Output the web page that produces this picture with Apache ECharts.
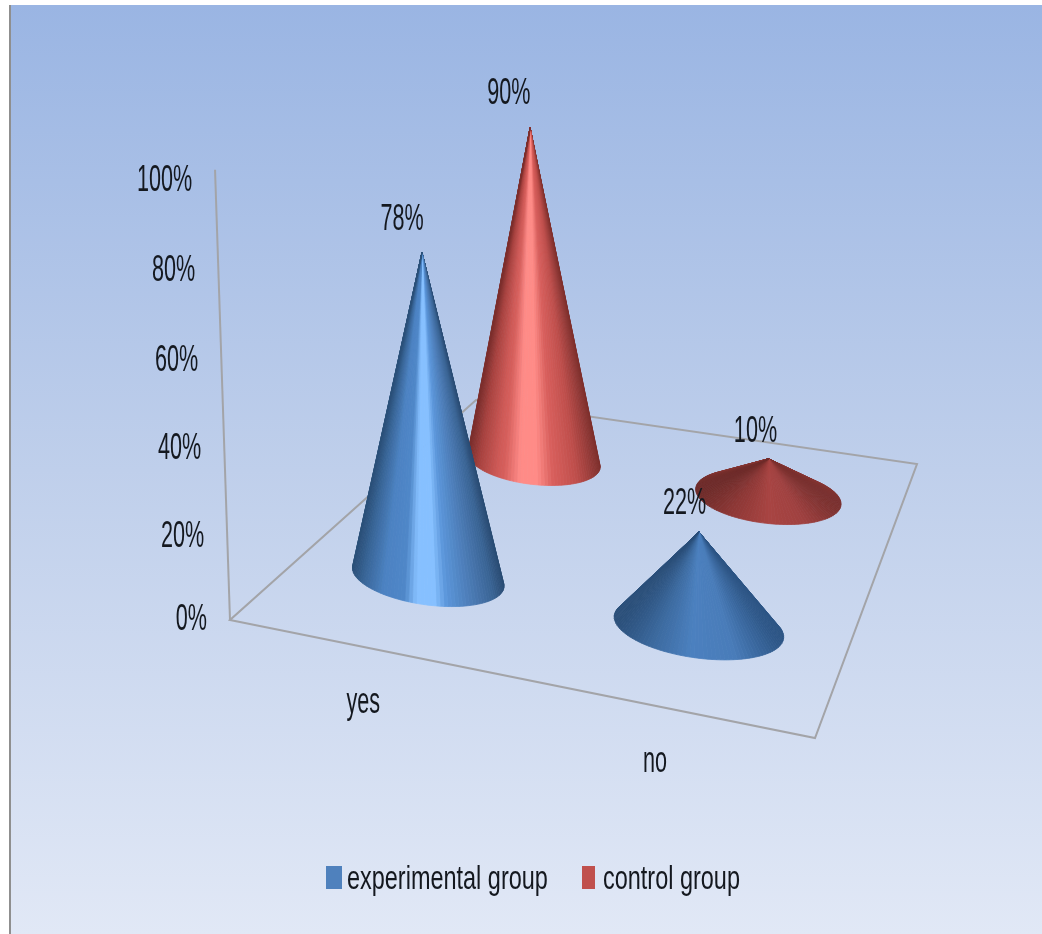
<!DOCTYPE html>
<html>
<head>
<meta charset="utf-8">
<title>Experimental and control group responses</title>
<style>html,body{margin:0;padding:0;background:#fff}#chart{width:1042px;height:934px}</style>
<script src="https://cdn.jsdelivr.net/npm/echarts@6/dist/echarts.min.js"></script>
</head>
<body>
<div id="chart"></div>
<script>
// Chart values
const categories = ['yes', 'no'];
const groupNames = ['experimental group', 'control group'];
const groupColors = ['#4f81bd', '#c0504d'];
const experimental = [78, 22];
const control = [90, 10];
const valueTicks = [0, 20, 40, 60, 80, 100];

const TEXT_COLOR = '#14181f';
const LABEL_FONT = '36px "Liberation Sans"';
const LABEL_SQUEEZE = 0.6;

// Perspective camera for the chart box: the floor's four corners on the page,
// and where the 100% level lands above the near-left corner.
const floorQuad = [[230, 620], [815, 738], [917, 464], [476, 400]];
const wallTop = [215.3, 178];
const wallW = 0.97;
// The drawn axis line runs slightly past the 100% level.
const wallOvershoot = 1.018;

function buildCamera() {
  const [p0, p1, p2, p3] = floorQuad;
  const dx1 = p1[0] - p2[0], dx2 = p3[0] - p2[0], sx = p0[0] - p1[0] + p2[0] - p3[0];
  const dy1 = p1[1] - p2[1], dy2 = p3[1] - p2[1], sy = p0[1] - p1[1] + p2[1] - p3[1];
  const det = dx1 * dy2 - dx2 * dy1;
  const g = (sx * dy2 - dx2 * sy) / det;
  const h = (dx1 * sy - sx * dy1) / det;
  const up = [wallTop[0] * wallW - p0[0], wallTop[1] * wallW - p0[1], wallW - 1];
  return {
    a: p1[0] - p0[0] + g * p1[0], b: p3[0] - p0[0] + h * p3[0], c: p0[0],
    d: p1[1] - p0[1] + g * p1[1], e: p3[1] - p0[1] + h * p3[1], f: p0[1],
    g, h, up
  };
}
const cam = buildCamera();

// u runs along the category edge, v into the depth, t up the value axis (all 0..1).
function project(u, v, t) {
  const X = cam.a * u + cam.b * v + cam.c + t * cam.up[0];
  const Y = cam.d * u + cam.e * v + cam.f + t * cam.up[1];
  const W = cam.g * u + cam.h * v + 1 + t * cam.up[2];
  return [X / W, Y / W];
}

function convexHull(points) {
  const pts = points.slice().sort((p, q) => p[0] - q[0] || p[1] - q[1]);
  const cross = (o, p, q) => (p[0] - o[0]) * (q[1] - o[1]) - (p[1] - o[1]) * (q[0] - o[0]);
  const half = list => {
    const out = [];
    list.forEach(p => {
      while (out.length > 1 && cross(out[out.length - 2], out[out.length - 1], p) <= 0) out.pop();
      out.push(p);
    });
    out.pop();
    return out;
  };
  return half(pts).concat(half(pts.reverse()));
}

function sampleStops(stops, f) {
  for (let i = 1; i < stops.length; i++) {
    if (f <= stops[i][0]) {
      const local = (f - stops[i - 1][0]) / (stops[i][0] - stops[i - 1][0]);
      return echarts.color.lerp(Math.max(0, local), [stops[i - 1][1], stops[i][1]]);
    }
  }
  return stops[stops.length - 1][1];
}

// Tall cones catch a bright vertical highlight; squat ones only darken at the sides.
const palettes = {
  tall: [
    [[0, '#2b5079'], [0.07, '#386597'], [0.2, '#4c82c2'], [0.34, '#4f87c8'], [0.42, '#86c0ff'], [0.54, '#86c0ff'], [0.62, '#5b96da'], [0.82, '#4876ae'], [0.93, '#3a6494'], [1, '#2a4c74']],
    [[0, '#7b2e2c'], [0.08, '#a8423f'], [0.22, '#cf5a57'], [0.27, '#d65f5c'], [0.39, '#ff8b87'], [0.52, '#ff8b87'], [0.64, '#d9605d'], [0.82, '#c04f4c'], [0.93, '#9a3d3a'], [1, '#7d2f2c']]
  ],
  squat: [
    [[0, '#2a4e78'], [0.22, '#3c6a9f'], [0.45, '#4b80bf'], [0.72, '#497cb9'], [1, '#2c5484']],
    [[0, '#6e2b29'], [0.22, '#8d3735'], [0.5, '#a84442'], [0.75, '#a04140'], [1, '#7a302e']]
  ]
};

const RADIUS_U = 0.148;
const BASE_FLATTEN = 0.37;
const BASE_TILT = 0.65;
// Placement of each group's row on the floor, and how strongly its height reads.
const rowDepth = [0.24, 0.75];
const rowShift = [0, -0.006];
const rowHeightGain = [1, 1.03];

function coneRenderer(groupIndex) {
  const depth = rowDepth[groupIndex];
  return function (params, api) {
    const box = params.coordSys;
    const value = api.value(1);
    const u = (api.coord([api.value(0), 0])[0] - box.x) / box.width + rowShift[groupIndex];
    const t = api.size([0, value])[1] / box.height * rowHeightGain[groupIndex];
    const centre = project(u, depth, 0);
    const edgeA = project(u - RADIUS_U, depth, 0);
    const edgeB = project(u + RADIUS_U, depth, 0);
    const major = [(edgeB[0] - edgeA[0]) / 2, (edgeB[1] - edgeA[1]) / 2 * BASE_TILT];
    const base = [];
    for (let i = 0; i < 120; i++) {
      const a = i / 120 * Math.PI * 2;
      base.push([
        centre[0] + major[0] * Math.cos(a),
        centre[1] + major[1] * Math.cos(a) + major[0] * BASE_FLATTEN * Math.sin(a)
      ]);
    }
    const apex = project(u, depth, t);
    const stops = palettes[value > 50 ? 'tall' : 'squat'][groupIndex];
    const hull = convexHull(base.concat([apex]));
    const left = centre[0] - major[0], width = 2 * major[0];
    const children = [];
    // The surface is a fan of thin facets from the tip, so shading converges there.
    hull.forEach((p, i) => {
      const q = hull[(i + 1) % hull.length];
      if (p === apex || q === apex) return;
      const f = Math.min(1, Math.max(0, ((p[0] + q[0]) / 2 - left) / width));
      const color = sampleStops(stops, f);
      children.push({
        type: 'polygon',
        shape: { points: [apex, p, q] },
        style: { fill: color, stroke: color, lineWidth: 0.8 }
      });
    });
    children.push({
      type: 'text',
      x: apex[0] - 12 - 10 * t, y: apex[1] - 26 - 8 * t,
      scaleX: LABEL_SQUEEZE,
      style: { text: value + '%', fill: TEXT_COLOR, font: LABEL_FONT, align: 'center', verticalAlign: 'middle' }
    });
    return { type: 'group', children };
  };
}

// Floor outline, value axis line, and the tick and category labels around them.
function frameRenderer(params, api) {
  const box = params.coordSys;
  const corners = [project(0, 0, 0), project(1, 0, 0), project(1, 1, 0), project(0, 1, 0)];
  const lineStyle = { stroke: '#a3a4a8', lineWidth: 2, fill: 'none' };
  const wallEnd = project(0, 0, wallOvershoot);
  const children = [
    { type: 'polygon', shape: { points: corners }, style: lineStyle },
    { type: 'line', shape: { x1: corners[0][0], y1: corners[0][1], x2: wallEnd[0], y2: wallEnd[1] }, style: lineStyle }
  ];
  valueTicks.forEach(tick => {
    const t = (box.y + box.height - api.coord([0, tick])[1]) / box.height;
    const p = project(0, 0, t);
    children.push({
      type: 'text', x: p[0] - 23, y: p[1] + (tick ? 3 : 0), scaleX: LABEL_SQUEEZE,
      style: { text: tick + '%', fill: TEXT_COLOR, font: LABEL_FONT, align: 'right', verticalAlign: 'middle' }
    });
  });
  categories.forEach(name => {
    const u = (api.coord([name, 0])[0] - box.x) / box.width;
    const p = project(u, 0, 0);
    children.push({
      type: 'text', x: p[0], y: p[1] + 56, scaleX: LABEL_SQUEEZE,
      style: { text: name, fill: TEXT_COLOR, font: LABEL_FONT, align: 'center', verticalAlign: 'middle' }
    });
  });
  return { type: 'group', children };
}

// Condensed legend entries along the bottom of the panel.
const legendMarkerX = [326, 582];
const legendMarkerWidth = [16, 13];
const legendTextX = [347, 603];
const legendEntries = groupNames.flatMap((name, i) => [{
  type: 'rect', z: 5, silent: true,
  shape: { x: legendMarkerX[i], y: 866, width: legendMarkerWidth[i], height: 23 },
  style: { fill: groupColors[i] }
}, {
  type: 'text', z: 5, silent: true,
  x: legendTextX[i], y: 880, scaleX: 0.69,
  style: { text: name, fill: TEXT_COLOR, font: '34px "Liberation Sans"', align: 'left', verticalAlign: 'middle' }
}]);

const chart = echarts.init(document.getElementById('chart'), null, { renderer: 'canvas' });
chart.setOption({
  animation: false,
  backgroundColor: '#ffffff',
  graphic: [{
    type: 'rect', z: -10, silent: true,
    shape: { x: 10, y: 5, width: 1032, height: 929 },
    style: {
      fill: new echarts.graphic.LinearGradient(0, 0, 0, 1, [
        { offset: 0, color: '#9ab5e3' },
        { offset: 0.5, color: '#bfcfeb' },
        { offset: 1, color: '#e1e8f6' }
      ])
    }
  }, {
    type: 'rect', z: -9, silent: true,
    shape: { x: 9, y: 5, width: 2, height: 929 },
    style: { fill: '#8f8f8f' }
  }].concat(legendEntries),
  grid: { left: 230, top: 178, width: 585, height: 442 },
  xAxis: { type: 'category', data: categories, show: false },
  yAxis: { type: 'value', min: 0, max: 100, interval: 20, show: false },
  series: [
    { type: 'custom', name: 'frame', z: 1, data: [[0]], renderItem: frameRenderer, silent: true },
    {
      type: 'custom', name: groupNames[1], z: 2, renderItem: coneRenderer(1),
      itemStyle: { color: groupColors[1] }, encode: { x: 0, y: 1 },
      data: control.map((v, i) => [i, v])
    },
    {
      type: 'custom', name: groupNames[0], z: 3, renderItem: coneRenderer(0),
      itemStyle: { color: groupColors[0] }, encode: { x: 0, y: 1 },
      data: experimental.map((v, i) => [i, v])
    }
  ]
});
</script>
</body>
</html>
